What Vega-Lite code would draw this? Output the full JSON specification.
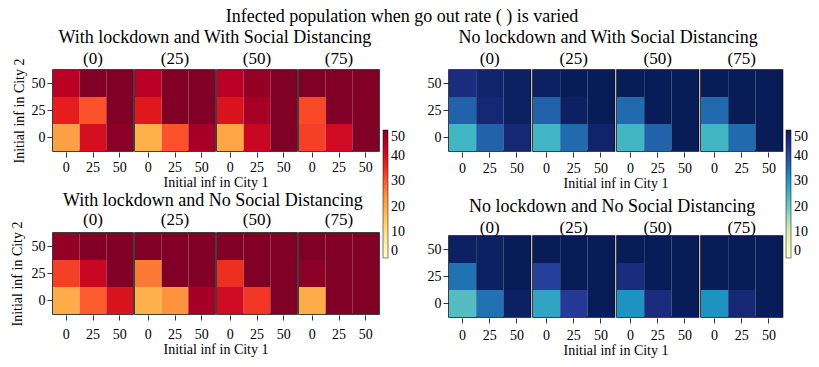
{
"$schema": "https://vega.github.io/schema/vega-lite/v6.json",
"padding": {"left": 10, "top": 8, "right": 5, "bottom": 5},
"background": "white",
"title": {"text": "Infected population when go out rate ( ) is varied", "fontSize": 18, "font": "Liberation Serif", "fontWeight": "normal", "anchor": "middle", "offset": 3, "dx": -7, "color": "black"},
"config": {
  "font": "Liberation Serif",
  "view": {"stroke": "black", "strokeWidth": 1.5},
  "axis": {"labelFont": "Liberation Serif", "titleFont": "Liberation Serif", "labelFontSize": 14, "titleFontSize": 14, "titleFontWeight": "normal", "labelColor": "black", "titleColor": "black", "tickColor": "#333", "domain": false, "grid": false, "tickSize": 5},
  "header": {"labelFont": "Liberation Serif", "titleFont": "Liberation Serif", "labelFontSize": 17, "titleFontSize": 14, "labelColor": "black", "titleColor": "black", "titleFontWeight": "normal"},
  "title": {"fontSize": 18, "fontWeight": "normal", "font": "Liberation Serif", "color": "black", "anchor": "middle"},
  "legend": {"labelFont": "Liberation Serif", "labelFontSize": 14, "labelColor": "black", "labelBaseline": "middle"}
},
"data": {"values": [
{"g":"TL","r":0,"c1":0,"c2":50,"v":44},{"g":"TL","r":0,"c1":25,"c2":50,"v":50},{"g":"TL","r":0,"c1":50,"c2":50,"v":50},
{"g":"TL","r":0,"c1":0,"c2":25,"v":37},{"g":"TL","r":0,"c1":25,"c2":25,"v":31},{"g":"TL","r":0,"c1":50,"c2":25,"v":50},
{"g":"TL","r":0,"c1":0,"c2":0,"v":22},{"g":"TL","r":0,"c1":25,"c2":0,"v":40},{"g":"TL","r":0,"c1":50,"c2":0,"v":49},
{"g":"TL","r":25,"c1":0,"c2":50,"v":44},{"g":"TL","r":25,"c1":25,"c2":50,"v":50},{"g":"TL","r":25,"c1":50,"c2":50,"v":50},
{"g":"TL","r":25,"c1":0,"c2":25,"v":38},{"g":"TL","r":25,"c1":25,"c2":25,"v":50},{"g":"TL","r":25,"c1":50,"c2":25,"v":50},
{"g":"TL","r":25,"c1":0,"c2":0,"v":19},{"g":"TL","r":25,"c1":25,"c2":0,"v":31},{"g":"TL","r":25,"c1":50,"c2":0,"v":46},
{"g":"TL","r":50,"c1":0,"c2":50,"v":44},{"g":"TL","r":50,"c1":25,"c2":50,"v":48},{"g":"TL","r":50,"c1":50,"c2":50,"v":50},
{"g":"TL","r":50,"c1":0,"c2":25,"v":39},{"g":"TL","r":50,"c1":25,"c2":25,"v":46},{"g":"TL","r":50,"c1":50,"c2":25,"v":50},
{"g":"TL","r":50,"c1":0,"c2":0,"v":21},{"g":"TL","r":50,"c1":25,"c2":0,"v":42},{"g":"TL","r":50,"c1":50,"c2":0,"v":50},
{"g":"TL","r":75,"c1":0,"c2":50,"v":50},{"g":"TL","r":75,"c1":25,"c2":50,"v":50},{"g":"TL","r":75,"c1":50,"c2":50,"v":50},
{"g":"TL","r":75,"c1":0,"c2":25,"v":32},{"g":"TL","r":75,"c1":25,"c2":25,"v":50},{"g":"TL","r":75,"c1":50,"c2":25,"v":50},
{"g":"TL","r":75,"c1":0,"c2":0,"v":33},{"g":"TL","r":75,"c1":25,"c2":0,"v":41},{"g":"TL","r":75,"c1":50,"c2":0,"v":50},
{"g":"BL","r":0,"c1":0,"c2":50,"v":48},{"g":"BL","r":0,"c1":25,"c2":50,"v":50},{"g":"BL","r":0,"c1":50,"c2":50,"v":50},
{"g":"BL","r":0,"c1":0,"c2":25,"v":33},{"g":"BL","r":0,"c1":25,"c2":25,"v":42},{"g":"BL","r":0,"c1":50,"c2":25,"v":50},
{"g":"BL","r":0,"c1":0,"c2":0,"v":20},{"g":"BL","r":0,"c1":25,"c2":0,"v":30},{"g":"BL","r":0,"c1":50,"c2":0,"v":39},
{"g":"BL","r":25,"c1":0,"c2":50,"v":50},{"g":"BL","r":25,"c1":25,"c2":50,"v":50},{"g":"BL","r":25,"c1":50,"c2":50,"v":50},
{"g":"BL","r":25,"c1":0,"c2":25,"v":27},{"g":"BL","r":25,"c1":25,"c2":25,"v":50},{"g":"BL","r":25,"c1":50,"c2":25,"v":50},
{"g":"BL","r":25,"c1":0,"c2":0,"v":19},{"g":"BL","r":25,"c1":25,"c2":0,"v":24},{"g":"BL","r":25,"c1":50,"c2":0,"v":46},
{"g":"BL","r":50,"c1":0,"c2":50,"v":50},{"g":"BL","r":50,"c1":25,"c2":50,"v":50},{"g":"BL","r":50,"c1":50,"c2":50,"v":50},
{"g":"BL","r":50,"c1":0,"c2":25,"v":35},{"g":"BL","r":50,"c1":25,"c2":25,"v":50},{"g":"BL","r":50,"c1":50,"c2":25,"v":50},
{"g":"BL","r":50,"c1":0,"c2":0,"v":41},{"g":"BL","r":50,"c1":25,"c2":0,"v":34},{"g":"BL","r":50,"c1":50,"c2":0,"v":50},
{"g":"BL","r":75,"c1":0,"c2":50,"v":50},{"g":"BL","r":75,"c1":25,"c2":50,"v":50},{"g":"BL","r":75,"c1":50,"c2":50,"v":50},
{"g":"BL","r":75,"c1":0,"c2":25,"v":49},{"g":"BL","r":75,"c1":25,"c2":25,"v":50},{"g":"BL","r":75,"c1":50,"c2":25,"v":50},
{"g":"BL","r":75,"c1":0,"c2":0,"v":20},{"g":"BL","r":75,"c1":25,"c2":0,"v":50},{"g":"BL","r":75,"c1":50,"c2":0,"v":50},
{"g":"TR","r":0,"c1":0,"c2":50,"v":46},{"g":"TR","r":0,"c1":25,"c2":50,"v":48},{"g":"TR","r":0,"c1":50,"c2":50,"v":49},
{"g":"TR","r":0,"c1":0,"c2":25,"v":37},{"g":"TR","r":0,"c1":25,"c2":25,"v":47},{"g":"TR","r":0,"c1":50,"c2":25,"v":49},
{"g":"TR","r":0,"c1":0,"c2":0,"v":25},{"g":"TR","r":0,"c1":25,"c2":0,"v":37},{"g":"TR","r":0,"c1":50,"c2":0,"v":47},
{"g":"TR","r":25,"c1":0,"c2":50,"v":49},{"g":"TR","r":25,"c1":25,"c2":50,"v":50},{"g":"TR","r":25,"c1":50,"c2":50,"v":50},
{"g":"TR","r":25,"c1":0,"c2":25,"v":37},{"g":"TR","r":25,"c1":25,"c2":25,"v":49},{"g":"TR","r":25,"c1":50,"c2":25,"v":50},
{"g":"TR","r":25,"c1":0,"c2":0,"v":25},{"g":"TR","r":25,"c1":25,"c2":0,"v":36},{"g":"TR","r":25,"c1":50,"c2":0,"v":48},
{"g":"TR","r":50,"c1":0,"c2":50,"v":50},{"g":"TR","r":50,"c1":25,"c2":50,"v":50},{"g":"TR","r":50,"c1":50,"c2":50,"v":50},
{"g":"TR","r":50,"c1":0,"c2":25,"v":36},{"g":"TR","r":50,"c1":25,"c2":25,"v":50},{"g":"TR","r":50,"c1":50,"c2":25,"v":50},
{"g":"TR","r":50,"c1":0,"c2":0,"v":25},{"g":"TR","r":50,"c1":25,"c2":0,"v":37},{"g":"TR","r":50,"c1":50,"c2":0,"v":50},
{"g":"TR","r":75,"c1":0,"c2":50,"v":50},{"g":"TR","r":75,"c1":25,"c2":50,"v":50},{"g":"TR","r":75,"c1":50,"c2":50,"v":50},
{"g":"TR","r":75,"c1":0,"c2":25,"v":36},{"g":"TR","r":75,"c1":25,"c2":25,"v":50},{"g":"TR","r":75,"c1":50,"c2":25,"v":50},
{"g":"TR","r":75,"c1":0,"c2":0,"v":25},{"g":"TR","r":75,"c1":25,"c2":0,"v":36},{"g":"TR","r":75,"c1":50,"c2":0,"v":50},
{"g":"BR","r":0,"c1":0,"c2":50,"v":49},{"g":"BR","r":0,"c1":25,"c2":50,"v":49},{"g":"BR","r":0,"c1":50,"c2":50,"v":50},
{"g":"BR","r":0,"c1":0,"c2":25,"v":35},{"g":"BR","r":0,"c1":25,"c2":25,"v":49},{"g":"BR","r":0,"c1":50,"c2":25,"v":50},
{"g":"BR","r":0,"c1":0,"c2":0,"v":23},{"g":"BR","r":0,"c1":25,"c2":0,"v":35},{"g":"BR","r":0,"c1":50,"c2":0,"v":49},
{"g":"BR","r":25,"c1":0,"c2":50,"v":50},{"g":"BR","r":25,"c1":25,"c2":50,"v":50},{"g":"BR","r":25,"c1":50,"c2":50,"v":50},
{"g":"BR","r":25,"c1":0,"c2":25,"v":42},{"g":"BR","r":25,"c1":25,"c2":25,"v":50},{"g":"BR","r":25,"c1":50,"c2":25,"v":50},
{"g":"BR","r":25,"c1":0,"c2":0,"v":28},{"g":"BR","r":25,"c1":25,"c2":0,"v":43},{"g":"BR","r":25,"c1":50,"c2":0,"v":50},
{"g":"BR","r":50,"c1":0,"c2":50,"v":50},{"g":"BR","r":50,"c1":25,"c2":50,"v":50},{"g":"BR","r":50,"c1":50,"c2":50,"v":50},
{"g":"BR","r":50,"c1":0,"c2":25,"v":46},{"g":"BR","r":50,"c1":25,"c2":25,"v":50},{"g":"BR","r":50,"c1":50,"c2":25,"v":50},
{"g":"BR","r":50,"c1":0,"c2":0,"v":31},{"g":"BR","r":50,"c1":25,"c2":0,"v":46},{"g":"BR","r":50,"c1":50,"c2":0,"v":50},
{"g":"BR","r":75,"c1":0,"c2":50,"v":50},{"g":"BR","r":75,"c1":25,"c2":50,"v":50},{"g":"BR","r":75,"c1":50,"c2":50,"v":50},
{"g":"BR","r":75,"c1":0,"c2":25,"v":50},{"g":"BR","r":75,"c1":25,"c2":25,"v":50},{"g":"BR","r":75,"c1":50,"c2":25,"v":50},
{"g":"BR","r":75,"c1":0,"c2":0,"v":31},{"g":"BR","r":75,"c1":25,"c2":0,"v":47},{"g":"BR","r":75,"c1":50,"c2":0,"v":50}
]},
"spacing": 22,
"resolve": {"scale": {"color": "independent"}, "legend": {"color": "independent"}},
"hconcat": [
 {"spacing": 2,
  "resolve": {"scale": {"color": "shared"}, "legend": {"color": "shared"}},
  "vconcat": [
   {"title": {"text": "With lockdown and With Social Distancing", "offset": 3, "dx": 19},
    "transform": [{"filter": "datum.g == 'TL'"}],
    "spacing": 0,
    "facet": {"column": {"field": "r", "type": "ordinal", "title": "Initial inf in City 1",
      "header": {"labelOrient": "top", "titleOrient": "bottom", "labelExpr": "'(' + datum.value + ')'", "labelPadding": 1, "titlePadding": -9}}},
    "spec": {"width": 80, "height": 81, "mark": {"type": "rect"},
     "encoding": {
      "x": {"field": "c1", "type": "ordinal", "scale": {"paddingInner": 0, "paddingOuter": 0}, "axis": {"title": null, "labelAngle": 0, "labelPadding": 3.5}},
      "y": {"field": "c2", "type": "ordinal", "sort": "descending", "scale": {"paddingInner": 0, "paddingOuter": 0}, "axis": {"title": "Initial inf in City 2", "labelPadding": 2, "titlePadding": 5}},
      "color": {"field": "v", "type": "quantitative", "scale": {"domain": [0, 6.25, 12.5, 18.75, 25, 31.25, 37.5, 43.75, 50], "range": ["#ffffcc", "#ffeda0", "#fed976", "#feb24c", "#fd8d3c", "#fc4e2a", "#e31a1c", "#bd0026", "#800026"], "interpolate": "rgb"},
        "legend": {"title": null, "orient": "none", "legendX": 330, "legendY": 60, "direction": "vertical", "gradientLength": 128, "gradientThickness": 5, "values": [0, 10, 20, 30, 40, 50], "labelOffset": 3, "gradientStrokeColor": "black", "gradientStrokeWidth": 0.5, "labelOverlap": false}}
     }}
   },
   {"title": {"text": "With lockdown and No Social Distancing", "offset": 1, "dx": 18},
    "transform": [{"filter": "datum.g == 'BL'"}],
    "spacing": 0,
    "facet": {"column": {"field": "r", "type": "ordinal", "title": "Initial inf in City 1",
      "header": {"labelOrient": "top", "titleOrient": "bottom", "labelExpr": "'(' + datum.value + ')'", "labelPadding": 3, "titlePadding": -9}}},
    "spec": {"width": 80, "height": 81, "mark": {"type": "rect"},
     "encoding": {
      "x": {"field": "c1", "type": "ordinal", "scale": {"paddingInner": 0, "paddingOuter": 0}, "axis": {"title": null, "labelAngle": 0, "labelPadding": 7.5}},
      "y": {"field": "c2", "type": "ordinal", "sort": "descending", "scale": {"paddingInner": 0, "paddingOuter": 0}, "axis": {"title": "Initial inf in City 2", "labelPadding": 2, "titlePadding": 7}},
      "color": {"field": "v", "type": "quantitative", "scale": {"domain": [0, 6.25, 12.5, 18.75, 25, 31.25, 37.5, 43.75, 50], "range": ["#ffffcc", "#ffeda0", "#fed976", "#feb24c", "#fd8d3c", "#fc4e2a", "#e31a1c", "#bd0026", "#800026"], "interpolate": "rgb"},
        "legend": {"title": null, "orient": "none", "legendX": 330, "legendY": 60, "direction": "vertical", "gradientLength": 128, "gradientThickness": 5, "values": [0, 10, 20, 30, 40, 50], "labelOffset": 3, "gradientStrokeColor": "black", "gradientStrokeWidth": 0.5, "labelOverlap": false}}
     }}
   }
  ]
 },
 {"spacing": 7,
  "resolve": {"scale": {"color": "shared"}, "legend": {"color": "shared"}},
  "vconcat": [
   {"title": {"text": "No lockdown and With Social Distancing", "offset": 3, "dx": 3},
    "transform": [{"filter": "datum.g == 'TR'"}],
    "spacing": 0,
    "facet": {"column": {"field": "r", "type": "ordinal", "title": "Initial inf in City 1",
      "header": {"labelOrient": "top", "titleOrient": "bottom", "labelExpr": "'(' + datum.value + ')'", "labelPadding": 1, "titlePadding": -9}}},
    "spec": {"width": 81.5, "height": 81, "mark": {"type": "rect"},
     "encoding": {
      "x": {"field": "c1", "type": "ordinal", "scale": {"paddingInner": 0, "paddingOuter": 0}, "axis": {"title": null, "labelAngle": 0, "labelPadding": 4.5}},
      "y": {"field": "c2", "type": "ordinal", "sort": "descending", "scale": {"paddingInner": 0, "paddingOuter": 0}, "axis": {"title": null, "labelPadding": 2}},
      "color": {"field": "v", "type": "quantitative", "scale": {"domain": [0, 6.25, 12.5, 18.75, 25, 31.25, 37.5, 43.75, 50], "range": ["#ffffd9", "#edf8b1", "#c7e9b4", "#7fcdbb", "#41b6c4", "#1d91c0", "#225ea8", "#253494", "#081d58"], "interpolate": "rgb"},
        "legend": {"title": null, "orient": "none", "legendX": 337, "legendY": 60, "direction": "vertical", "gradientLength": 128, "gradientThickness": 5, "values": [0, 10, 20, 30, 40, 50], "labelOffset": 3, "gradientStrokeColor": "black", "gradientStrokeWidth": 0.5, "labelOverlap": false}}
     }}
   },
   {"title": {"text": "No lockdown and No Social Distancing", "offset": 3, "dx": 7},
    "transform": [{"filter": "datum.g == 'BR'"}],
    "spacing": 0,
    "facet": {"column": {"field": "r", "type": "ordinal", "title": "Initial inf in City 1",
      "header": {"labelOrient": "top", "titleOrient": "bottom", "labelExpr": "'(' + datum.value + ')'", "labelPadding": -2, "titlePadding": -8}}},
    "spec": {"width": 81.5, "height": 81, "mark": {"type": "rect"},
     "encoding": {
      "x": {"field": "c1", "type": "ordinal", "scale": {"paddingInner": 0, "paddingOuter": 0}, "axis": {"title": null, "labelAngle": 0, "labelPadding": 5}},
      "y": {"field": "c2", "type": "ordinal", "sort": "descending", "scale": {"paddingInner": 0, "paddingOuter": 0}, "axis": {"title": null, "labelPadding": 2}},
      "color": {"field": "v", "type": "quantitative", "scale": {"domain": [0, 6.25, 12.5, 18.75, 25, 31.25, 37.5, 43.75, 50], "range": ["#ffffd9", "#edf8b1", "#c7e9b4", "#7fcdbb", "#41b6c4", "#1d91c0", "#225ea8", "#253494", "#081d58"], "interpolate": "rgb"},
        "legend": {"title": null, "orient": "none", "legendX": 337, "legendY": 60, "direction": "vertical", "gradientLength": 128, "gradientThickness": 5, "values": [0, 10, 20, 30, 40, 50], "labelOffset": 3, "gradientStrokeColor": "black", "gradientStrokeWidth": 0.5, "labelOverlap": false}}
     }}
   }
  ]
 }
]
}
